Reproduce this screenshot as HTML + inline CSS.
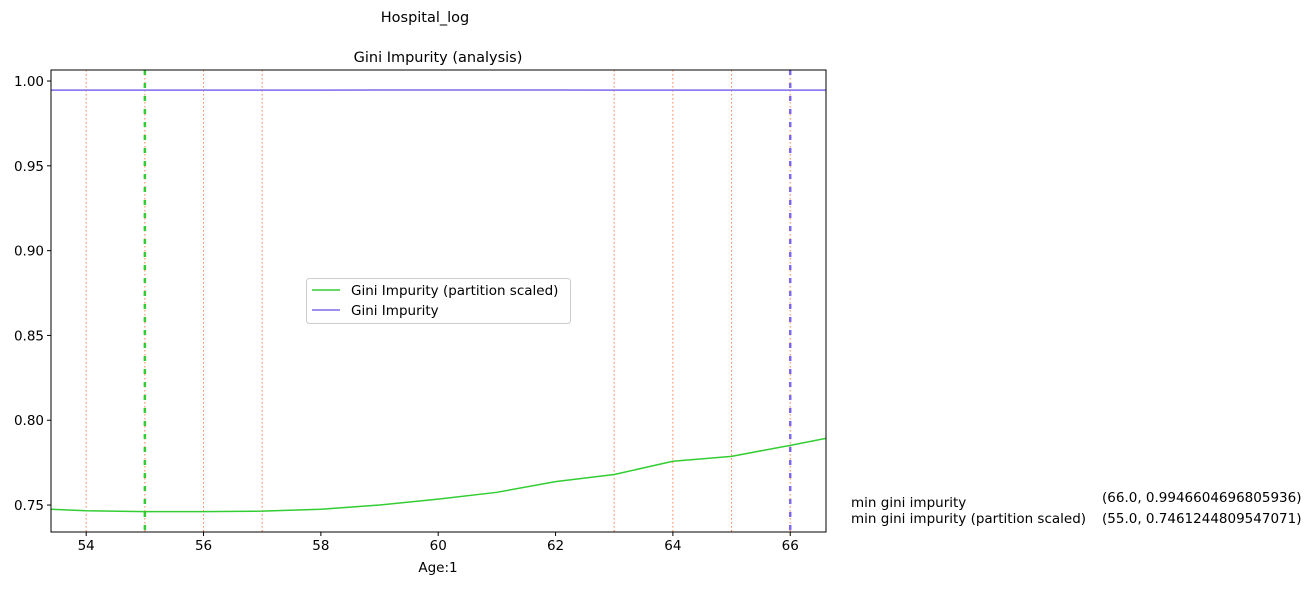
<!DOCTYPE html>
<html><head><meta charset="utf-8"><style>
body{margin:0;background:#fff}
svg text{font-family:"DejaVu Sans","Liberation Sans",sans-serif;font-size:13.5px;fill:#000}
</style></head><body>
<svg id="c" width="1314" height="585" xmlns="http://www.w3.org/2000/svg"></svg>
<script>
const xs=[53.4,54,55,56,57,58,59,60,61,62,63,64,65,66,66.61];
const greenVals=[0.7475,0.7466,0.7461,0.7461,0.7464,0.7475,0.7500,0.7535,0.7575,0.7638,0.7680,0.7758,0.7787,0.7852,0.7893];
const purpleVals=[0.9946,0.9946,0.9946,0.9946,0.9946,0.9946,0.9947,0.9947,0.9947,0.9947,0.9946,0.9946,0.9946,0.99466,0.99466];
const splitXs=[54,55,56,57,63,64,65,66];
const xTicks=[54,56,58,60,62,64,66];
const yTicks=[0.75,0.80,0.85,0.90,0.95,1.00];
const minGreenX=55, minPurpleX=66;
const L=51,R=826,T=70,B=532,xmin=53.40,xmax=66.61,ymin=0.7341,ymax=1.0065;
const sx=v=>L+(v-xmin)/(xmax-xmin)*(R-L);
const sy=v=>B-(v-ymin)/(ymax-ymin)*(B-T);
const svg=document.getElementById('c');const NS='http://www.w3.org/2000/svg';
function el(t,a,txt){const e=document.createElementNS(NS,t);for(const k in a)e.setAttribute(k,a[k]);if(txt!==undefined)e.textContent=txt;svg.appendChild(e);return e;}
const cp=el('clipPath',{id:'cp'});const cr=document.createElementNS(NS,'rect');cr.setAttribute('x',L);cr.setAttribute('y',T);cr.setAttribute('width',R-L);cr.setAttribute('height',B-T);cp.appendChild(cr);
splitXs.forEach(v=>{const e=el('line',{x1:sx(v),x2:sx(v),y1:T,y2:B,stroke:'#ff7f50','stroke-width':1,'stroke-dasharray':'1.5,2.5'});

});
function path(vals,col,name){const d=xs.map((x,i)=>(i?'L':'M')+sx(x)+','+sy(vals[i])).join('');const e=el('path',{d:d,fill:'none',stroke:col,'stroke-width':1.5,'clip-path':'url(#cp)'});

}
path(greenVals,'#32cd32','gini-partition-scaled-line');
path(purpleVals,'#7b68ee','gini-impurity-line');
let e=el('line',{x1:sx(minGreenX),x2:sx(minGreenX),y1:T,y2:B,stroke:'#32cd32','stroke-width':2.5,'stroke-dasharray':'5,8'});


e=el('line',{x1:sx(minPurpleX),x2:sx(minPurpleX),y1:T,y2:B,stroke:'#7b68ee','stroke-width':2.5,'stroke-dasharray':'5,8'});


e=el('rect',{x:L,y:T,width:R-L,height:B-T,fill:'none',stroke:'#000','stroke-width':1});


xTicks.forEach(v=>{el('line',{x1:sx(v),x2:sx(v),y1:B,y2:B+4,stroke:'#000'});const t=el('text',{x:sx(v),y:B+18,'text-anchor':'middle'},v);

});
yTicks.forEach(v=>{el('line',{x1:L-4,x2:L,y1:sy(v),y2:sy(v),stroke:'#000'});const t=el('text',{x:L-7,y:sy(v)+5,'text-anchor':'end'},v.toFixed(2));

});
</script>
<svg style="position:absolute;left:0;top:0" width="1314" height="585" xmlns="http://www.w3.org/2000/svg">
<text x="425" y="22" text-anchor="middle" style="font-size:14.5px">Hospital_log</text>
<text x="438" y="62" text-anchor="middle" style="font-size:14.5px">Gini Impurity (analysis)</text>
<text x="438" y="572" text-anchor="middle">Age:1</text>
<g>
<rect x="306.5" y="278.5" width="264" height="45" rx="3" fill="#fff" fill-opacity="0.8" stroke="#ccc"/>
<line x1="312" x2="340" y1="290" y2="290" stroke="#32cd32" stroke-width="1.5"/>
<text x="351" y="295">Gini Impurity (partition scaled)</text>
<line x1="312" x2="340" y1="310" y2="310" stroke="#7b68ee" stroke-width="1.5"/>
<text x="351" y="315">Gini Impurity</text>
</g>
<g>
<text x="851" y="507">min gini impurity</text>
<text x="851" y="523">min gini impurity (partition scaled)</text>
<text x="1102" y="502">(66.0, 0.9946604696805936)</text>
<text x="1102" y="523">(55.0, 0.7461244809547071)</text>
</g>
</svg>
</body></html>
